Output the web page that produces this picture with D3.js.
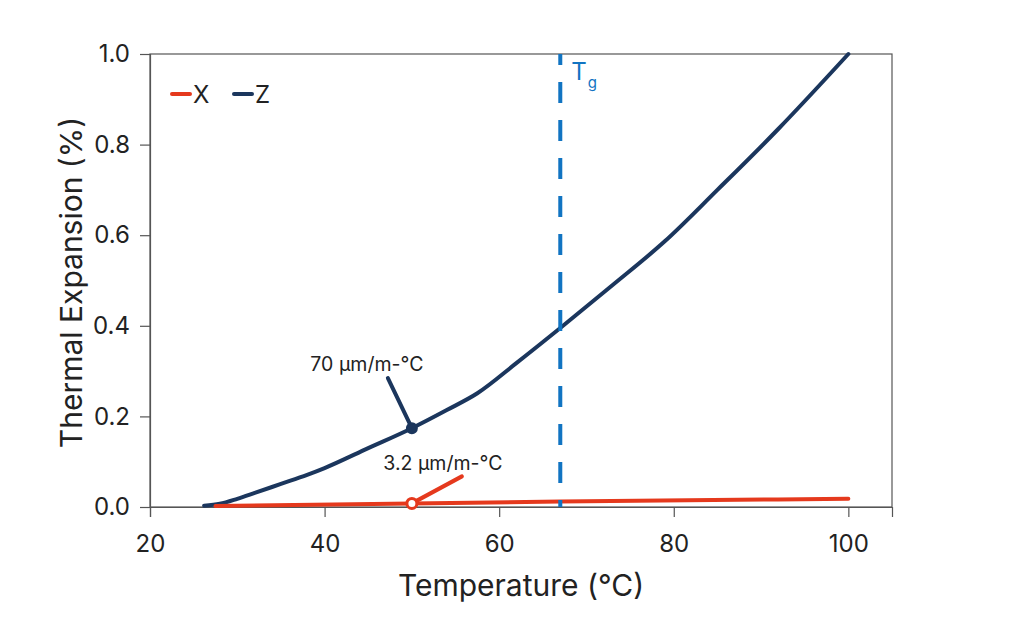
<!DOCTYPE html>
<html>
<head>
<meta charset="utf-8">
<script src="https://cdn.jsdelivr.net/npm/d3@7"></script>
<style>
  html, body { margin: 0; padding: 0; background: #fff; }
  svg { display: block; font-family: Inter, "Noto Sans", sans-serif; }
</style>
</head>
<body>
<svg id="chart" width="1024" height="642"></svg>
<script>
// ---- data ----
const seriesNames = ["X", "Z"];
const zTemps  = [26.2, 28, 30, 32, 35, 38, 40, 45, 50, 54, 57.5, 62, 67, 73, 79, 85, 92, 100];
const zValues = [0.003, 0.007, 0.018, 0.031, 0.051, 0.071, 0.086, 0.13, 0.174, 0.214, 0.251, 0.318, 0.395, 0.49, 0.587, 0.7, 0.835, 1.0];
const xTemps  = [27.5, 50, 67, 100];
const xValues = [0.002, 0.008, 0.012, 0.018];
const xTickValues = [20, 40, 60, 80, 100];
const yTickValues = [0.0, 0.2, 0.4, 0.6, 0.8, 1.0];
const tgTemp = 67;
const annotTemp = 50;
const annotLabels = ["3.2 µm/m-°C", "70 µm/m-°C"];

const colors = { X: "#e5391d", Z: "#1b365d", tg: "#1174c2", axis: "#555", text: "#222" };

const svg = d3.select("#chart");
const margin = { left: 150, right: 132, top: 54, bottom: 135 };
const W = 1024, H = 642;
const x = d3.scaleLinear().domain([20, 105]).range([margin.left, W - margin.right]);
const y = d3.scaleLinear().domain([0, 1]).range([H - margin.bottom, margin.top]);

// frame
svg.append("rect")
  .attr("x", x(20)).attr("y", y(1))
  .attr("width", x(105) - x(20)).attr("height", y(0) - y(1))
  .attr("fill", "none").attr("stroke", colors.axis).attr("stroke-width", 1.2);

// axes
const xAxis = svg.append("g").attr("transform", `translate(0,${y(0)})`)
  .call(d3.axisBottom(x).tickValues(xTickValues).tickSize(10).tickPadding(18).tickFormat(d3.format("d")));
const yAxis = svg.append("g").attr("transform", `translate(${x(20)},0)`)
  .call(d3.axisLeft(y).tickValues(yTickValues).tickSize(10).tickPadding(10).tickFormat(d3.format(".1f")));
[xAxis, yAxis].forEach(g => {
  g.select(".domain").attr("stroke", colors.axis).attr("stroke-width", 1.2);
  g.selectAll(".tick line").attr("stroke", colors.axis).attr("stroke-width", 1.2);
  g.selectAll(".tick text").attr("fill", colors.text).style("font-size", "24px")
    .style("font-family", "Inter, 'Noto Sans', sans-serif");
});

// axis titles
svg.append("text").attr("x", (x(20) + x(105)) / 2).attr("y", 596)
  .attr("text-anchor", "middle").attr("fill", colors.text).style("font-size", "30px")
  .text("Temperature (°C)");
svg.append("text").attr("transform", `translate(82,${(y(0) + y(1)) / 2 + 2}) rotate(-90)`)
  .attr("text-anchor", "middle").attr("fill", colors.text).style("font-size", "30px")
  .text("Thermal Expansion (%)");

// lines
const line = d3.line().x(d => x(d[0])).y(d => y(d[1])).curve(d3.curveMonotoneX);
const xData = d3.zip(xTemps, xValues);
const zData = d3.zip(zTemps, zValues);
svg.append("path").datum(zData).attr("d", line).attr("fill", "none")
  .attr("stroke", colors.Z).attr("stroke-width", 4).attr("stroke-linecap", "round");
svg.append("path").datum(xData).attr("d", line).attr("fill", "none")
  .attr("stroke", colors.X).attr("stroke-width", 4).attr("stroke-linecap", "round");

// Tg line
svg.append("line")
  .attr("x1", x(tgTemp)).attr("x2", x(tgTemp)).attr("y1", y(1)).attr("y2", y(0))
  .attr("stroke", colors.tg).attr("stroke-width", 4)
  .attr("stroke-dasharray", "21,17").attr("stroke-dashoffset", 10);
const tgText = svg.append("text").attr("x", x(tgTemp) + 11).attr("y", y(1) + 26)
  .attr("fill", colors.tg).style("font-size", "24px");
tgText.append("tspan").text("T");
tgText.append("tspan").attr("dx", 1).attr("dy", 8).style("font-size", "15px").text("g");

// annotations
const zAt = d3.scaleLinear().domain(zTemps).range(zValues)(annotTemp);
const xAt = d3.scaleLinear().domain(xTemps).range(xValues)(annotTemp);
// Z annotation
svg.append("line").attr("x1", x(annotTemp)).attr("y1", y(zAt))
  .attr("x2", x(annotTemp) - 24).attr("y2", y(zAt) - 50)
  .attr("stroke", colors.Z).attr("stroke-width", 4).attr("stroke-linecap", "round");
svg.append("circle").attr("cx", x(annotTemp)).attr("cy", y(zAt)).attr("r", 5)
  .attr("fill", colors.Z).attr("stroke", colors.Z).attr("stroke-width", 2);
svg.append("text").attr("x", x(annotTemp) - 45).attr("y", y(zAt) - 57)
  .attr("text-anchor", "middle").attr("fill", colors.text).style("font-size", "19.5px")
  .text(annotLabels[1]);
// X annotation
svg.append("line").attr("x1", x(annotTemp)).attr("y1", y(xAt))
  .attr("x2", x(annotTemp) + 50).attr("y2", y(xAt) - 27)
  .attr("stroke", colors.X).attr("stroke-width", 4).attr("stroke-linecap", "round");
svg.append("circle").attr("cx", x(annotTemp)).attr("cy", y(xAt)).attr("r", 5)
  .attr("fill", "#fff").attr("stroke", colors.X).attr("stroke-width", 3);
svg.append("text").attr("x", x(annotTemp) + 31).attr("y", y(xAt) - 33)
  .attr("text-anchor", "middle").attr("fill", colors.text).style("font-size", "19.5px")
  .text(annotLabels[0]);

// legend
const legend = svg.append("g");
seriesNames.forEach((name, i) => {
  const lx = 172 + i * 62, ly = 94;
  legend.append("line").attr("x1", lx).attr("x2", lx + 18).attr("y1", ly).attr("y2", ly)
    .attr("stroke", colors[name]).attr("stroke-width", 4).attr("stroke-linecap", "round");
  legend.append("text").attr("x", lx + 21).attr("y", ly + 9).attr("fill", colors.text)
    .style("font-size", "24px").text(name);
});
</script>
</body>
</html>
